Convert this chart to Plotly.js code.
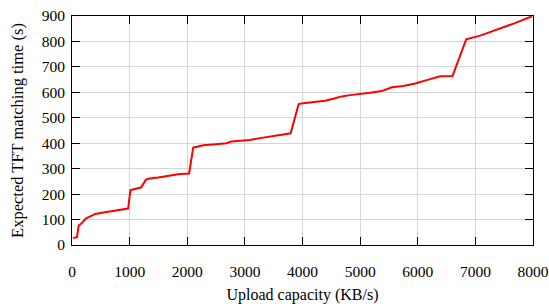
<!DOCTYPE html>
<html>
<head>
<meta charset="utf-8">
<script src="https://cdn.plot.ly/plotly-3.0.1.min.js"></script>
<style>html,body{margin:0;padding:0;background:#fff;}</style>
</head>
<body>
<div id="chart" style="width:549px;height:304px;"></div>
<script>
const uploadCapacity = [17, 87, 116, 163, 238, 337, 406, 597, 800, 974, 1014, 1119, 1197, 1281, 1322, 1495, 1698, 1872, 2033, 2103, 2173, 2277, 2450, 2566, 2682, 2768, 2970, 3087, 3261, 3550, 3666, 3794, 3933, 4014, 4188, 4391, 4535, 4680, 4826, 5000, 5173, 5376, 5550, 5752, 5955, 6186, 6389, 6603, 6841, 7084, 7345, 7664, 7983];
const matchingTime = [27, 31, 76, 84, 104, 113, 122, 130, 138, 143, 216, 222, 226, 256, 260, 265, 273, 279, 281, 383, 386, 392, 395, 399, 400, 407, 410, 413, 420, 428, 434, 439, 554, 557, 562, 567, 575, 584, 589, 593, 598, 605, 620, 625, 635, 650, 663, 664, 808, 823, 844, 870, 899];
const xTicks = [0, 1000, 2000, 3000, 4000, 5000, 6000, 7000, 8000];
const yTicks = [0, 100, 200, 300, 400, 500, 600, 700, 800, 900];

const SERIF = '"Liberation Serif", "DejaVu Serif", serif';

const trace = {
  x: uploadCapacity,
  y: matchingTime,
  mode: 'lines',
  line: {color: '#ff0000', width: 2},
  hoverinfo: 'skip'
};

const axisCommon = {
  showline: true, linecolor: '#000', linewidth: 1, mirror: 'ticks',
  ticks: 'inside', ticklen: 8, tickcolor: '#000', tickwidth: 1,
  showgrid: true, gridcolor: '#d6d6d6', gridwidth: 1,
  zeroline: false,
  tickfont: {family: SERIF, size: 15.5, color: '#000'}
};

const layout = {
  width: 549, height: 304,
  margin: {l: 72, r: 16, t: 16, b: 58.5},
  paper_bgcolor: '#fff', plot_bgcolor: '#fff',
  showlegend: false,
  font: {family: SERIF, size: 15, color: '#000'},
  xaxis: Object.assign({}, axisCommon, {
    range: [0, 8000], tickvals: xTicks, ticktext: xTicks.map(String),
    ticklabelstandoff: 12,
    title: {text: 'Upload capacity (KB/s)', font: {family: SERIF, size: 16, color: '#000'}, standoff: 12}
  }),
  yaxis: Object.assign({}, axisCommon, {
    range: [0, 900], tickvals: yTicks, ticktext: yTicks.map(String),
    ticklabelstandoff: 3,
    title: {text: 'Expected TFT matching time (s)', font: {family: SERIF, size: 16.5, color: '#000'}, standoff: 13}
  })
};

Plotly.newPlot('chart', [trace], layout, {staticPlot: true, displayModeBar: false});
</script>
</body>
</html>
